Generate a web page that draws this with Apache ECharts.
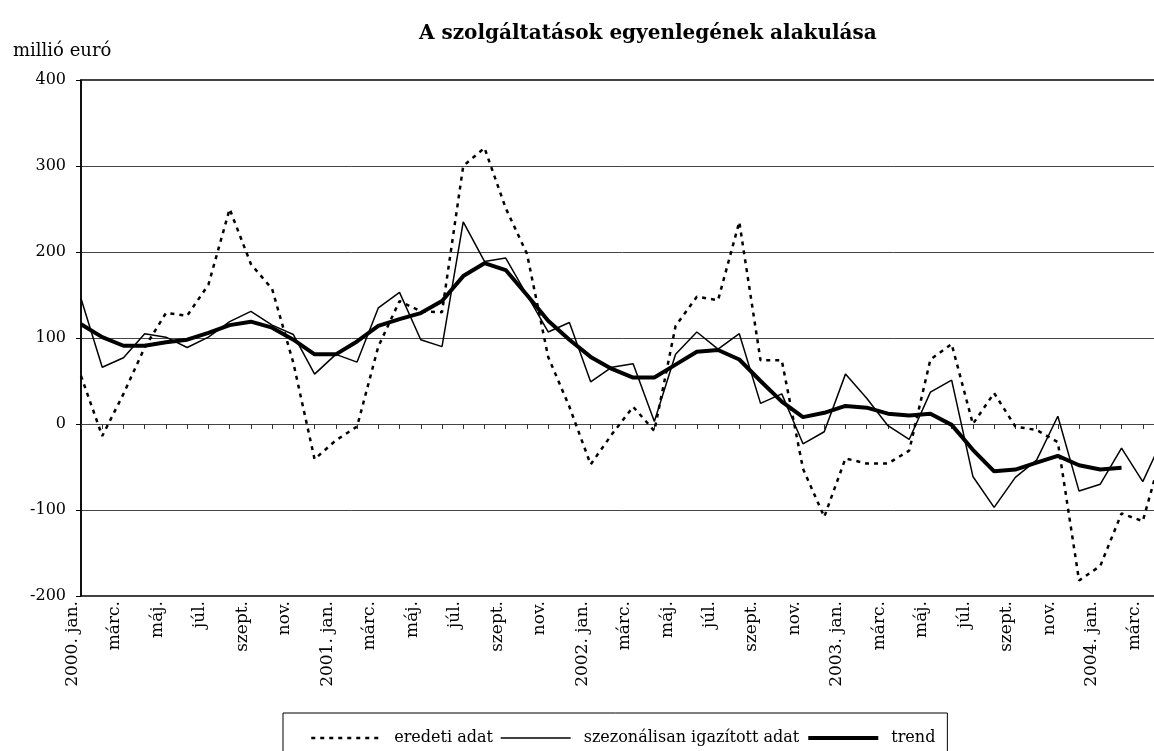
<!DOCTYPE html>
<html>
<head>
<meta charset="utf-8">
<title>A szolgáltatások egyenlegének alakulása</title>
<script src="https://cdn.jsdelivr.net/npm/echarts@6/dist/echarts.min.js"></script>
<style>
  html, body { margin: 0; padding: 0; background: #fff; overflow: hidden; }
  /* a rajz jobb szele (2004. apr.) kilog az ablakbol, mint az eredetin */
  #chart { width: 1164px; height: 751px; }
</style>
</head>
<body>
<div id="chart"></div>
<script>
// honapok: 2000. jan. - 2004. apr. (az utolso pont mar a kep szelen tul van)
var years = [2000, 2001, 2002, 2003, 2004];
var monthNames = ['jan.', 'febr.', 'márc.', 'ápr.', 'máj.', 'jún.', 'júl.', 'aug.', 'szept.', 'okt.', 'nov.', 'dec.'];
var monthCount = 52;

// eredeti adat (millio euro)
var original = [56, -14, 35, 89, 129, 126, 162, 250, 186, 157, 71, -41,
    -19, -3, 90, 143, 131, 130, 300, 321, 251, 198, 78, 20,
    -47, -12, 20, -8, 114, 148, 144, 235, 74, 74, -52, -108,
    -40, -46, -46, -31, 75, 93, 0, 36, -3, -7, -21, -182,
    -165, -104, -113, -25];

// szezonalisan igazitott adat
var adjusted = [146, 66, 77, 105, 101, 89, 101, 119, 131, 115, 104, 58,
    81, 72, 135, 153, 98, 90, 235, 189, 193, 150, 107, 118,
    49, 66, 70, 3, 81, 107, 87, 105, 24, 35, -23, -9,
    58, 30, -2, -18, 37, 51, -61, -97, -62, -42, 9, -78,
    -70, -28, -67, -14];

// trend
var trend = [116, 101, 91, 91, 95, 98, 106, 115, 119, 112, 98, 81,
    81, 96, 114, 122, 129, 143, 172, 187, 179, 150, 120, 98,
    78, 64, 54, 54, 69, 84, 86, 75, 50, 26, 8, 13,
    21, 19, 12, 10, 12, -1, -30, -55, -53, -45, -37, -48,
    -53, -51, null, null];

var categories = [];
for (var i = 0; i < monthCount; i++) {
    var m = i % 12;
    var y = years[Math.floor(i / 12)];
    categories.push(m === 0 ? y + '. jan.' : monthNames[m]);
}

var serif = 'DejaVu Serif';

var myChart = echarts.init(document.getElementById('chart'));
var option = {
    animation: false,
    color: ['#000', '#000', '#000'],
    title: [
        {
            text: 'A szolgáltatások egyenlegének alakulása',
            left: 414,
            top: 19,
            textStyle: { fontFamily: serif, fontWeight: 'bold', fontSize: 20, color: '#000' }
        },
        {
            text: 'millió euró',
            left: 8,
            top: 37,
            textStyle: { fontFamily: serif, fontWeight: 'normal', fontSize: 18, color: '#000' }
        }
    ],
    legend: {
        left: 283,
        top: 713,
        padding: [17, 12, 17, 27],
        borderColor: '#000',
        borderWidth: 1,
        itemWidth: 70,
        itemHeight: 14,
        itemGap: 7,
        // csak a vonal latszodjon, jelolo nelkul
        itemStyle: { color: 'rgba(0,0,0,0)', borderColor: 'rgba(0,0,0,0)', borderWidth: 0 },
        textStyle: { fontFamily: serif, fontSize: 16, color: '#000', padding: [0, 0, 0, 8] },
        data: [
            { name: 'eredeti adat', lineStyle: { width: 2.5, type: [4, 5] } },
            { name: 'szezonálisan igazított adat', lineStyle: { width: 1.5 } },
            { name: 'trend', lineStyle: { width: 4 } }
        ]
    },
    grid: {
        left: 81,
        top: 80,
        right: 0,
        bottom: 155,
        show: true,
        borderColor: '#000',
        borderWidth: 1.5,
        containLabel: false
    },
    xAxis: [
        {
            // also tengely: csak a feliratok
            type: 'category',
            data: categories,
            boundaryGap: false,
            position: 'bottom',
            axisLine: { show: false, onZero: false },
            axisTick: { show: false },
            splitLine: { show: false },
            axisLabel: {
                interval: 1,
                rotate: 90,
                margin: 5,
                verticalAlign: 'bottom',
                fontFamily: serif,
                fontSize: 17,
                color: '#000'
            }
        },
        {
            // tengelyvonal a nullanal, havi jelolesekkel
            type: 'category',
            data: categories,
            boundaryGap: false,
            position: 'bottom',
            axisLine: { show: true, onZero: true, onZeroAxisIndex: 0, lineStyle: { color: '#444', width: 1 } },
            axisTick: { show: true, interval: 0, length: 5, lineStyle: { color: '#333', width: 1 } },
            axisLabel: { show: false },
            splitLine: { show: false }
        }
    ],
    yAxis: {
        type: 'value',
        min: -200,
        max: 400,
        interval: 100,
        axisLine: { show: true, lineStyle: { color: '#000', width: 1.5 } },
        axisTick: { show: true, length: 5, lineStyle: { color: '#000' } },
        axisLabel: { margin: 15, fontFamily: serif, fontSize: 16, color: '#000' },
        splitLine: { lineStyle: { color: '#444', width: 1 } }
    },
    series: [
        {
            name: 'eredeti adat',
            type: 'line',
            xAxisIndex: 0,
            data: original,
            symbol: 'none',
            lineStyle: { color: '#000', width: 2.5, type: [4, 5] },
            z: 2
        },
        {
            name: 'szezonálisan igazított adat',
            type: 'line',
            xAxisIndex: 0,
            data: adjusted,
            symbol: 'none',
            lineStyle: { color: '#000', width: 1.5 },
            z: 3
        },
        {
            name: 'trend',
            type: 'line',
            xAxisIndex: 0,
            data: trend,
            symbol: 'none',
            lineStyle: { color: '#000', width: 4 },
            z: 4
        }
    ]
};
myChart.setOption(option);
</script>
</body>
</html>
